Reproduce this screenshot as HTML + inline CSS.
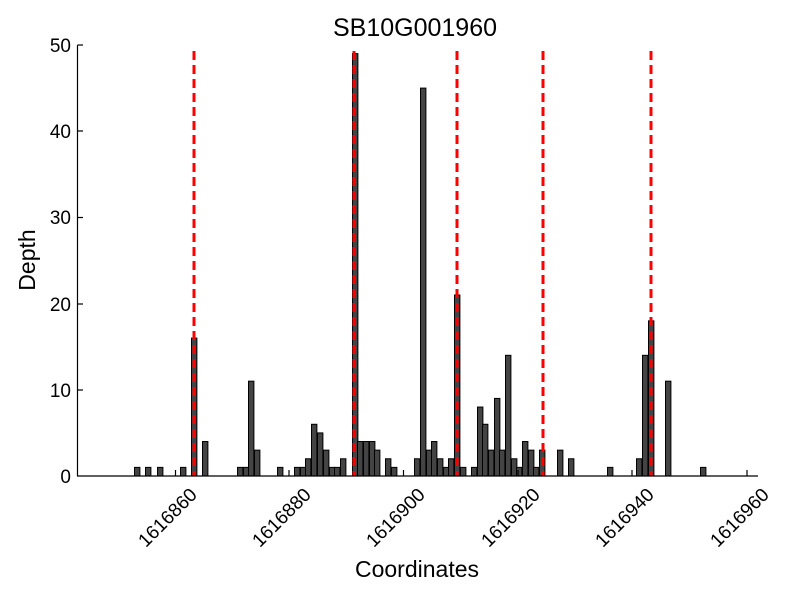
<!DOCTYPE html>
<html><head><style>body{margin:0;background:#fff}svg{display:block}</style></head><body>
<svg width="800" height="600" xmlns="http://www.w3.org/2000/svg" font-family="Liberation Sans, sans-serif">
<rect width="800" height="600" fill="#fff"/>
<g fill="#444" stroke="#000" stroke-width="1">
<rect x="134.5" y="467.38" width="5.4" height="8.62"/>
<rect x="145.5" y="467.38" width="5.4" height="8.62"/>
<rect x="157.5" y="467.38" width="5.4" height="8.62"/>
<rect x="180.5" y="467.38" width="5.4" height="8.62"/>
<rect x="191.5" y="338.08" width="5.4" height="137.92"/>
<rect x="202.5" y="441.52" width="5.4" height="34.48"/>
<rect x="237.5" y="467.38" width="5.4" height="8.62"/>
<rect x="243.5" y="467.38" width="5.4" height="8.62"/>
<rect x="248.5" y="381.18" width="5.4" height="94.82"/>
<rect x="254.5" y="450.14" width="5.4" height="25.86"/>
<rect x="277.5" y="467.38" width="5.4" height="8.62"/>
<rect x="294.5" y="467.38" width="5.4" height="8.62"/>
<rect x="300.5" y="467.38" width="5.4" height="8.62"/>
<rect x="305.5" y="458.76" width="5.4" height="17.24"/>
<rect x="311.5" y="424.28" width="5.4" height="51.72"/>
<rect x="317.5" y="432.9" width="5.4" height="43.1"/>
<rect x="323.5" y="450.14" width="5.4" height="25.86"/>
<rect x="329.5" y="467.38" width="5.4" height="8.62"/>
<rect x="334.5" y="467.38" width="5.4" height="8.62"/>
<rect x="340.5" y="458.76" width="5.4" height="17.24"/>
<rect x="352.5" y="53.62" width="5.4" height="422.38"/>
<rect x="357.5" y="441.52" width="5.4" height="34.48"/>
<rect x="363.5" y="441.52" width="5.4" height="34.48"/>
<rect x="369.5" y="441.52" width="5.4" height="34.48"/>
<rect x="374.5" y="450.14" width="5.4" height="25.86"/>
<rect x="385.5" y="458.76" width="5.4" height="17.24"/>
<rect x="391.5" y="467.38" width="5.4" height="8.62"/>
<rect x="414.5" y="458.76" width="5.4" height="17.24"/>
<rect x="420.5" y="88.1" width="5.4" height="387.9"/>
<rect x="426.5" y="450.14" width="5.4" height="25.86"/>
<rect x="431.5" y="441.52" width="5.4" height="34.48"/>
<rect x="437.5" y="458.76" width="5.4" height="17.24"/>
<rect x="443.5" y="467.38" width="5.4" height="8.62"/>
<rect x="448.5" y="458.76" width="5.4" height="17.24"/>
<rect x="454.5" y="294.98" width="5.4" height="181.02"/>
<rect x="460.5" y="467.38" width="5.4" height="8.62"/>
<rect x="471.5" y="467.38" width="5.4" height="8.62"/>
<rect x="477.5" y="407.04" width="5.4" height="68.96"/>
<rect x="482.5" y="424.28" width="5.4" height="51.72"/>
<rect x="488.5" y="450.14" width="5.4" height="25.86"/>
<rect x="494.5" y="398.42" width="5.4" height="77.58"/>
<rect x="499.5" y="450.14" width="5.4" height="25.86"/>
<rect x="505.5" y="355.32" width="5.4" height="120.68"/>
<rect x="511.5" y="458.76" width="5.4" height="17.24"/>
<rect x="516.5" y="467.38" width="5.4" height="8.62"/>
<rect x="522.5" y="441.52" width="5.4" height="34.48"/>
<rect x="528.5" y="450.14" width="5.4" height="25.86"/>
<rect x="533.5" y="467.38" width="5.4" height="8.62"/>
<rect x="539.5" y="450.14" width="5.4" height="25.86"/>
<rect x="557.5" y="450.14" width="5.4" height="25.86"/>
<rect x="568.5" y="458.76" width="5.4" height="17.24"/>
<rect x="607.5" y="467.38" width="5.4" height="8.62"/>
<rect x="636.5" y="458.76" width="5.4" height="17.24"/>
<rect x="642.5" y="355.32" width="5.4" height="120.68"/>
<rect x="648.5" y="320.84" width="5.4" height="155.16"/>
<rect x="665.5" y="381.18" width="5.4" height="94.82"/>
<rect x="700.5" y="467.38" width="5.4" height="8.62"/>
</g>
<g stroke="#f00" stroke-width="3" stroke-dasharray="9,5">
<line x1="194" y1="51" x2="194" y2="476"/><line x1="354" y1="51" x2="354" y2="476"/><line x1="457" y1="51" x2="457" y2="476"/><line x1="543" y1="51" x2="543" y2="476"/><line x1="651" y1="51" x2="651" y2="476"/>
</g>
<g stroke="#000" stroke-width="1.2" fill="none">
<line x1="77.5" y1="45" x2="77.5" y2="476"/><line x1="77" y1="476" x2="758" y2="476"/>
<line x1="77.5" y1="45" x2="83" y2="45"/><line x1="77.5" y1="131" x2="83" y2="131"/><line x1="77.5" y1="217.5" x2="83" y2="217.5"/><line x1="77.5" y1="304" x2="83" y2="304"/><line x1="77.5" y1="390" x2="83" y2="390"/>
<line x1="175.5" y1="476" x2="175.5" y2="470"/><line x1="289" y1="476" x2="289" y2="470"/><line x1="403.5" y1="476" x2="403.5" y2="470"/><line x1="518" y1="476" x2="518" y2="470"/><line x1="632" y1="476" x2="632" y2="470"/><line x1="747" y1="476" x2="747" y2="470"/>
</g>
<g font-size="19" text-anchor="end" fill="#000">
<text x="71" y="52">50</text><text x="71" y="138">40</text><text x="71" y="224">30</text><text x="71" y="311">20</text><text x="71" y="397">10</text><text x="71" y="483">0</text>
</g>
<g font-size="19" text-anchor="middle" fill="#000">
<text transform="translate(172,522) rotate(-45)">1616860</text>
<text transform="translate(286,522) rotate(-45)">1616880</text>
<text transform="translate(400,522) rotate(-45)">1616900</text>
<text transform="translate(515,522) rotate(-45)">1616920</text>
<text transform="translate(629,522) rotate(-45)">1616940</text>
<text transform="translate(744,522) rotate(-45)">1616960</text>
</g>
<text x="417" y="577" font-size="23" text-anchor="middle">Coordinates</text>
<text transform="translate(35,260) rotate(-90)" font-size="23" text-anchor="middle">Depth</text>
<text x="415" y="36" font-size="25" text-anchor="middle">SB10G001960</text>
</svg>
</body></html>
